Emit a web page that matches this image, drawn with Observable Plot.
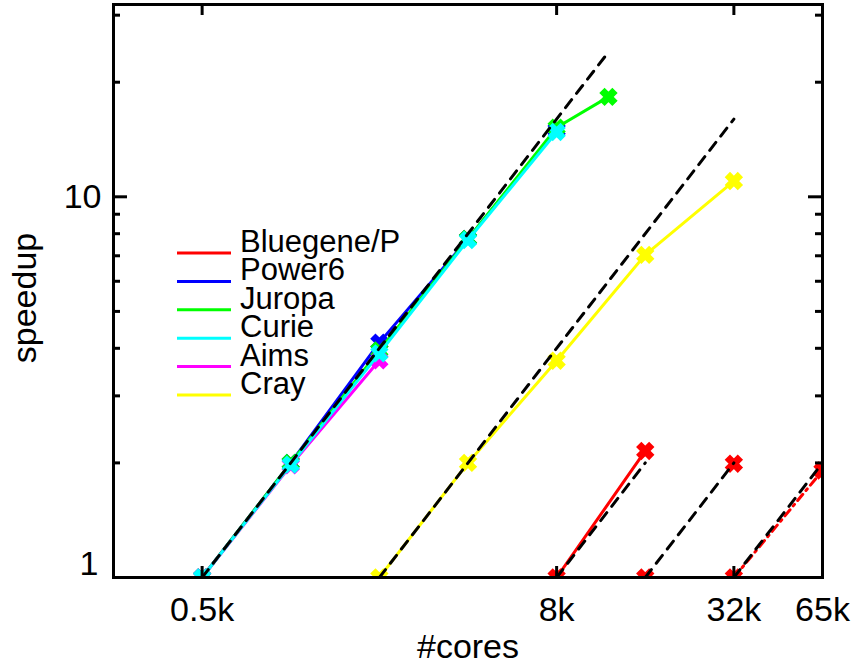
<!DOCTYPE html>
<html>
<head>
<meta charset="utf-8">
<script src="https://cdn.jsdelivr.net/npm/d3@7"></script>
<script src="https://cdn.jsdelivr.net/npm/@observablehq/plot@0.6"></script>
<style>
  html, body { margin: 0; padding: 0; background: #fff; }
  #chart { width: 855px; height: 666px; overflow: hidden; }
</style>
</head>
<body>
<div id="chart"></div>
<script>
// ---- data ----
const legendNames  = ["Bluegene/P", "Power6", "Juropa", "Curie", "Aims", "Cray"];
const legendColors = ["#ff0000", "#0000ff", "#00ff00", "#00ffff", "#ff00ff", "#ffff00"];

const power6Cores = [512, 1024, 2048, 4096, 8192];
const power6      = [1, 2.0, 4.14, 7.75, 15.0];
const juropaCores = [512, 1024, 2048, 4096, 8192, 12288];
const juropa      = [1, 2.0, 3.95, 7.75, 15.2, 18.3];
const curieCores  = [512, 1024, 2048, 4096, 8192];
const curie       = [1, 1.98, 3.88, 7.7, 14.8];
const aimsCores   = [512, 1024, 2048];
const aims        = [1, 1.97, 3.72];
const crayCores   = [2048, 4096, 8192, 16384, 32768];
const cray        = [1, 2.0, 3.71, 7.04, 11.0];
const bgCoresA    = [8192, 16384];
const bgA         = [1, 2.15];
const bgCoresB    = [16384, 32768];
const bgB         = [1, 1.99];
const bgCoresC    = [32768, 65536];
const bgC         = [1, 1.91];

// ideal-scaling guide lines (start / end)
const idealCores = [[512, 12288], [2048, 32768], [8192, 16384], [16384, 32768], [32768, 65536]];
const idealSpeed = [[1, 24], [1, 16], [1, 2], [1, 2], [1, 2]];

const xTickValuesBottom = [512, 8192, 32768];
const xTickValuesTop    = [512, 8192, 32768, 65536];
const xTickLabels       = ["0.5k", "8k", "32k", "65k"];
const xLabelValues      = [512, 8192, 32768, 65536];
const yMajorTicks = [1, 10];
const yMinorTicks = [2, 3, 4, 5, 6, 7, 8, 9, 20, 30];

const toRows = (cores, vals) => cores.map((c, i) => ({cores: c, speedup: vals[i]}));

const W = 855, H = 666;
const mL = 113, mR = 33, mT = 4, mB = 89;
const fw = W - mL - mR, fh = H - mT - mB;
const font = "Liberation Sans, Arial, Helvetica, sans-serif";

function series(rows, color, opts = {}) {
  const marks = [];
  if (opts.line !== false) {
    marks.push(Plot.line(rows, {x: "cores", y: "speedup", stroke: color, strokeWidth: 3,
      strokeDasharray: opts.dash, clip: true}));
  }
  marks.push(Plot.dot(rows, {x: "cores", y: "speedup", symbol: "times", r: 6,
    stroke: color, strokeWidth: 7.5, clip: true}));
  return marks;
}

const idealMarks = idealCores.map((c, i) =>
  Plot.line(toRows(c, idealSpeed[i]), {x: "cores", y: "speedup", stroke: "black",
    strokeWidth: 3, strokeDasharray: "10,8", clip: true}));

const chart = Plot.plot({
  width: W, height: H,
  marginLeft: mL, marginRight: mR, marginTop: mT, marginBottom: mB,
  x: {type: "log", base: 2, domain: [256, 65536], axis: null},
  y: {type: "log", domain: [1, 32], axis: null},
  style: {fontFamily: font, background: "white", overflow: "visible"},
  marks: [
    ...series(toRows(bgCoresA, bgA), legendColors[0]),
    ...series(toRows(bgCoresB, bgB), legendColors[0], {line: false}),
    ...series(toRows(bgCoresC, bgC), legendColors[0], {dash: "8,5,2,5"}),
    ...series(toRows(crayCores, cray), legendColors[5]),
    ...series(toRows(power6Cores, power6), legendColors[1]),
    ...series(toRows(juropaCores, juropa), legendColors[2]),
    ...series(toRows(aimsCores, aims), legendColors[4]),
    ...series(toRows(curieCores, curie), legendColors[3]),
    ...idealMarks,
    // ticks (inward, on all four sides)
    Plot.tickY(yMajorTicks, {y: d => d, insetRight: fw - 14, stroke: "black", strokeWidth: 3}),
    Plot.tickY(yMinorTicks, {y: d => d, insetRight: fw - 7, stroke: "black", strokeWidth: 3}),
    Plot.tickY(yMajorTicks, {y: d => d, insetLeft: fw - 14, stroke: "black", strokeWidth: 3}),
    Plot.tickY(yMinorTicks, {y: d => d, insetLeft: fw - 7, stroke: "black", strokeWidth: 3}),
    Plot.tickX(xTickValuesBottom, {x: d => d, insetTop: fh - 11, stroke: "black", strokeWidth: 3}),
    Plot.tickX(xTickValuesTop, {x: d => d, insetBottom: fh - 11, stroke: "black", strokeWidth: 3}),
    Plot.frame({stroke: "black", strokeWidth: 3}),
    // tick labels
    Plot.text(xLabelValues, {x: d => d, text: (d, i) => xTickLabels[i], frameAnchor: "bottom",
      dy: 33, lineAnchor: "middle", fontSize: 34, fill: "black"}),
    Plot.text([10], {y: d => d, text: d => String(d), frameAnchor: "left", textAnchor: "end",
      dx: -12, lineAnchor: "middle", fontSize: 34, fill: "black"}),
    Plot.text([1], {y: d => d, text: d => String(d), frameAnchor: "left", textAnchor: "end",
      dx: -15, dy: -13, lineAnchor: "middle", fontSize: 34, fill: "black"}),
    // axis titles
    Plot.text(["#cores"], {frameAnchor: "bottom", dy: 70, lineAnchor: "middle", fontSize: 34, fill: "black"}),
    Plot.text(["speedup"], {frameAnchor: "left", textAnchor: "middle", dx: -88, dy: 7, rotate: -90,
      lineAnchor: "middle", fontSize: 34, fill: "black"})
  ]
});

// legend inside the plot area
const svg = d3.select(chart);
const lg = svg.append("g").attr("font-family", font).attr("font-size", 31)
  .attr("text-anchor", "start");
legendNames.forEach((name, i) => {
  const y = 253 + i * 28.4;
  lg.append("line").attr("x1", 177).attr("x2", 231).attr("y1", y).attr("y2", y)
    .attr("stroke", legendColors[i]).attr("stroke-width", 3);
  lg.append("text").attr("x", 240).attr("y", y - 1).attr("fill", "black")
    .attr("text-anchor", "start").text(name);
});

document.getElementById("chart").appendChild(chart);
</script>
</body>
</html>
